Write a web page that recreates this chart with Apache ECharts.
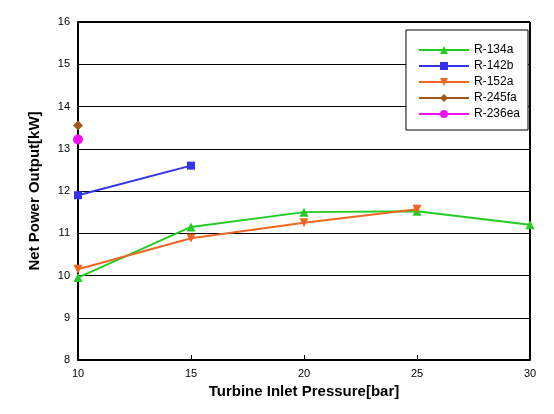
<!DOCTYPE html>
<html><head><meta charset="utf-8">
<script src="https://cdn.jsdelivr.net/npm/echarts@6/dist/echarts.min.js"></script>
<style>html,body{margin:0;background:#fff}#c{width:554px;height:414px}</style>
</head><body><div id="c"></div>
<script>
const xTicks=[10,15,20,25,30];
const r134a=[[10,9.95],[15,11.15],[20,11.5],[25,11.52],[30,11.2]];
const r142b=[[10,11.9],[15,12.6]];
const r152a=[[10,10.15],[15,10.88],[20,11.25],[25,11.57]];
const r245fa=[[10,13.55]];
const r236ea=[[10,13.22]];
const mk=(name,data,color,symbol,size)=>({name,type:'line',data,symbol,symbolSize:size,
 lineStyle:{color,width:2},itemStyle:{color},z:symbol==='circle'?5:3});
const chart=echarts.init(document.getElementById('c'));
chart.setOption({
 animation:false,
 grid:{left:78,right:24,top:22,bottom:54},
 legend:{right:26,top:30,orient:'vertical',itemWidth:50,itemHeight:10,itemGap:4,
  backgroundColor:'#fff',borderColor:'#000',borderWidth:1,padding:[14,8,10,12],
  textStyle:{fontFamily:'Liberation Sans',fontSize:12,color:'#000'}},
 xAxis:{type:'value',min:10,max:30,interval:5,name:'Turbine Inlet Pressure[bar]',nameLocation:'middle',nameGap:24,
  nameTextStyle:{fontFamily:'Liberation Sans',fontWeight:'bold',fontSize:15,color:'#000'},
  axisLine:{lineStyle:{color:'#000',width:2}},axisTick:{inside:true,lineStyle:{color:'#000'}},
  axisLabel:{color:'#000',fontFamily:'Liberation Sans',fontSize:11},splitLine:{show:false}},
 yAxis:{type:'value',min:8,max:16,interval:1,name:'Net Power Output[kW]',nameLocation:'middle',nameGap:36,
  nameTextStyle:{fontFamily:'Liberation Sans',fontWeight:'bold',fontSize:15,color:'#000'},
  axisLine:{show:true,lineStyle:{color:'#000',width:2}},axisTick:{inside:true,lineStyle:{color:'#000'}},
  axisLabel:{color:'#000',fontFamily:'Liberation Sans',fontSize:11},
  splitLine:{show:true,lineStyle:{color:'#000',width:1}}},
 series:[
  mk('R-134a',r134a,'#22cc22','triangle',9),
  mk('R-142b',r142b,'#3333ee','rect',8),
  mk('R-152a',r152a,'#ee6622','path://M0,0L10,0L5,9Z',9),
  mk('R-245fa',r245fa,'#a0581a','diamond',10),
  mk('R-236ea',r236ea,'#ee11ee','circle',10),
  {type:'line',data:[[30,8],[30,16]],symbol:'none',lineStyle:{color:'#000',width:2},silent:true},
  {type:'line',data:[[10,16],[30,16]],symbol:'none',lineStyle:{color:'#000',width:2},silent:true}
 ]
});
</script></body></html>
